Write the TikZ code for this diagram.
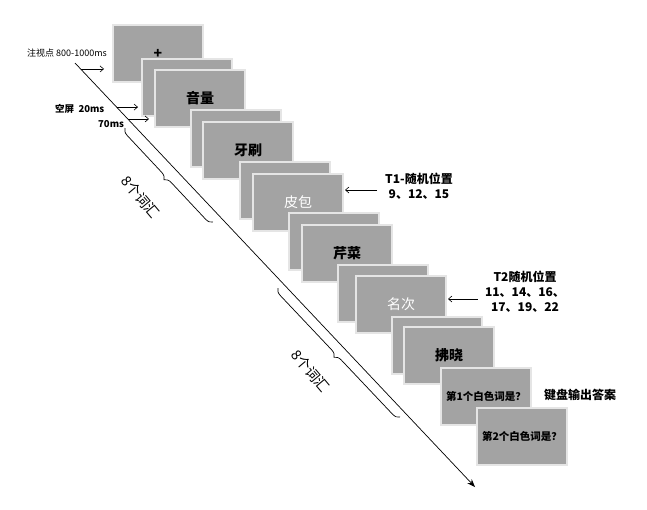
\documentclass[tikz,border=0pt]{standalone}
\usepackage{fontspec}
\setmainfont{Noto Sans CJK SC}
\usetikzlibrary{arrows.meta,calc,decorations.pathreplacing}

\begin{document}
\begin{tikzpicture}[
  x=1pt,y=-1pt,
  bx/.style ={draw=black!10,line width=1.2pt,fill=black!36,anchor=north west,
              minimum width=90pt,minimum height=57pt,inner sep=0pt,outer sep=0pt},
  wd/.style ={bx,font=\fontsize{14}{16}\selectfont\bfseries},
  wh/.style ={bx,text=white,font=\fontsize{14}{16}\selectfont},
  qs/.style ={bx,font=\fontsize{10.5}{12}\selectfont\bfseries},
  lb/.style ={inner sep=1pt,anchor=west,font=\fontsize{9}{11}\selectfont},
  rl/.style ={inner sep=1pt,align=center,font=\fontsize{12}{15}\selectfont\bfseries},
  ar/.style ={-{Stealth[length=8pt,width=6pt]},line width=0.7pt},
  sa/.style ={-{Straight Barb[length=3.5pt,width=6pt]},line width=0.6pt},
  br/.style ={decorate,decoration={brace,amplitude=7pt,mirror},line width=0.7pt},
  ct/.style ={font=\fontsize{14}{16}\selectfont,rotate=-50,inner sep=1pt}
]
\useasboundingbox (0,0) rectangle (647,509);

% ======== trial screens (later ones lie on top)
\node[wd] (fix) at (113,25)  {+};
\node[bx] (b1)  at (142,59)  {};
\node[wd] (w1)  at (155,70)  {音量};
\node[bx] (b2)  at (191,110) {};
\node[wd] (w2)  at (203,122) {牙刷};
\node[bx] (b3)  at (240,162) {};
\node[wh] (w3)  at (253,174) {皮包};
\node[bx] (b4)  at (289,213) {};
\node[wd] (w4)  at (302,225) {芹菜};
\node[bx] (b5)  at (338,265) {};
\node[wh] (w5)  at (356,276) {名次};
\node[bx] (b6)  at (392,317) {};
\node[wd] (w6)  at (404,327) {拂晓};
\node[qs] (q1)  at (441,368) {第1个白色词是？};
\node[qs] (q2)  at (477,408) {第2个白色词是？};

% ======== time line
\coordinate (t0) at (75,63);
\coordinate (t1) at (475,487);
\draw[ar] (t0) -- (t1);
\path (t0) -- (t1) coordinate[pos=0.014] (a0)
                   coordinate[pos=0.104] (a1)
                   coordinate[pos=0.132] (a2);

% ======== timing labels
\node[lb] (lfix) at (26,53)  {注视点 800-1000ms};
\node[lb,font=\fontsize{9.5}{11}\selectfont\bfseries] (lbl) at (54,109) {空屏\ \ 20ms};
\node[lb,font=\fontsize{9.5}{11}\selectfont\bfseries] (lw)  at (97,124) {70ms};
\draw[sa] (a0) -- ([xshift=-9]fix.west |- a0);
\draw[sa] (a1) -- ([xshift=-4]b1.west |- a1);
\draw[sa] (a2) -- ([xshift=-6]w1.west |- a2);

% ======== braces
\coordinate (c1) at (125,128);
\coordinate (c2) at (213,222);
\coordinate (c3) at (278,288);
\coordinate (c4) at (400,417);
\draw[br] (c1) -- (c2);
\draw[br] (c3) -- (c4);
\node[ct] (n1) at (141,197) {8个词汇};
\node[ct] (n2) at (311,371) {8个词汇};

% ======== target positions
\node[rl] (t1lab) at (419,186) {T1-随机位置\\9、12、15};
\node[rl] (t2lab) at (525,292) {T2随机位置\\11、14、16、\\17、19、22};
\node[rl] (key)   at (580,395) {键盘输出答案};
\coordinate (p1) at ($(t1lab.west)+(-7,4)$);
\coordinate (p2) at ($(t2lab.west)+(-6,7)$);
\draw[sa] (p1) -- ([xshift=2]p1 -| w3.east);
\draw[sa] (p2) -- ([xshift=2]p2 -| w5.east);
\end{tikzpicture}
\end{document}
